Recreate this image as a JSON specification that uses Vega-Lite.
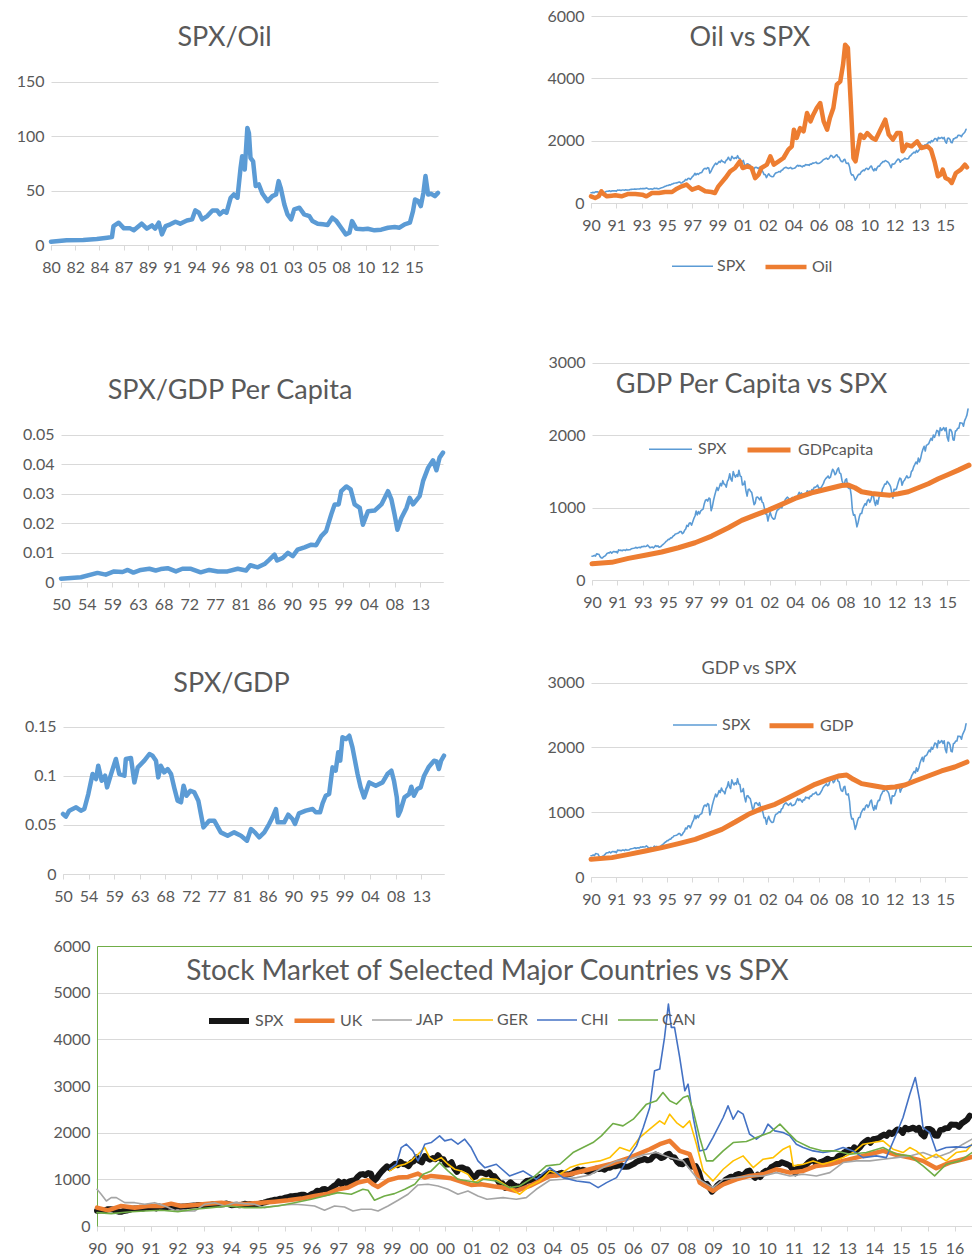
{
"$schema":"https://vega.github.io/schema/vega-lite/v6.json",
"background":"white",
"padding":{"left":0,"top":5,"right":0,"bottom":0},
"autosize":{"type":"pad"},
"config":{
 "font":"Lato",
 "view":{"stroke":"transparent"},
 "axis":{"labelFont":"Lato","labelFontSize":16,"labelColor":"#595959","labelOverlap":false},
 "axisX":{"grid":false,"domainColor":"#d9d9d9","tickColor":"#d9d9d9","tickSize":5,"labelPadding":9,"labelFlush":false,"labelAngle":0},
 "axisY":{"domain":false,"ticks":false,"grid":true,"gridColor":"#d9d9d9","labelPadding":7,"labelExpr":"'' + datum.value"},
 "title":{"font":"Lato","fontSize":27,"fontWeight":"normal","color":"#595959","frame":"group","anchor":"middle","baseline":"middle"},
 "legend":{"labelFont":"Lato","labelFontSize":16,"labelColor":"#595959","padding":0},
 "line":{"strokeJoin":"round","strokeCap":"round"}
},
"resolve":{"scale":{"color":"independent","strokeWidth":"independent"},"legend":{"color":"independent","strokeWidth":"independent"}},
"datasets":{
"spx":[
{"t":1990,"v":329},{"t":1990.08,"v":332},{"t":1990.17,"v":340},{"t":1990.25,"v":331},{"t":1990.33,"v":361},{"t":1990.42,"v":358},{"t":1990.5,"v":356},{"t":1990.58,"v":323},{"t":1990.67,"v":306},{"t":1990.75,"v":304},{"t":1990.83,"v":322},{"t":1990.92,"v":330},
{"t":1991,"v":344},{"t":1991.08,"v":367},{"t":1991.17,"v":375},{"t":1991.25,"v":375},{"t":1991.33,"v":390},{"t":1991.42,"v":371},{"t":1991.5,"v":388},{"t":1991.58,"v":395},{"t":1991.67,"v":388},{"t":1991.75,"v":392},{"t":1991.83,"v":375},{"t":1991.92,"v":417},
{"t":1992,"v":409},{"t":1992.08,"v":413},{"t":1992.17,"v":404},{"t":1992.25,"v":415},{"t":1992.33,"v":415},{"t":1992.42,"v":408},{"t":1992.5,"v":424},{"t":1992.58,"v":414},{"t":1992.67,"v":418},{"t":1992.75,"v":419},{"t":1992.83,"v":431},{"t":1992.92,"v":436},
{"t":1993,"v":439},{"t":1993.08,"v":443},{"t":1993.17,"v":452},{"t":1993.25,"v":440},{"t":1993.33,"v":450},{"t":1993.42,"v":451},{"t":1993.5,"v":448},{"t":1993.58,"v":464},{"t":1993.67,"v":459},{"t":1993.75,"v":468},{"t":1993.83,"v":462},{"t":1993.92,"v":466},
{"t":1994,"v":482},{"t":1994.08,"v":467},{"t":1994.17,"v":446},{"t":1994.25,"v":451},{"t":1994.33,"v":457},{"t":1994.42,"v":444},{"t":1994.5,"v":458},{"t":1994.58,"v":476},{"t":1994.67,"v":463},{"t":1994.75,"v":472},{"t":1994.83,"v":454},{"t":1994.92,"v":459},
{"t":1995,"v":470},{"t":1995.08,"v":487},{"t":1995.17,"v":501},{"t":1995.25,"v":515},{"t":1995.33,"v":533},{"t":1995.42,"v":545},{"t":1995.5,"v":562},{"t":1995.58,"v":562},{"t":1995.67,"v":584},{"t":1995.75,"v":582},{"t":1995.83,"v":605},{"t":1995.92,"v":616},
{"t":1996,"v":636},{"t":1996.08,"v":640},{"t":1996.17,"v":646},{"t":1996.25,"v":654},{"t":1996.33,"v":669},{"t":1996.42,"v":671},{"t":1996.5,"v":640},{"t":1996.58,"v":652},{"t":1996.67,"v":687},{"t":1996.75,"v":705},{"t":1996.83,"v":757},{"t":1996.92,"v":741},
{"t":1997,"v":786},{"t":1997.08,"v":791},{"t":1997.17,"v":757},{"t":1997.25,"v":801},{"t":1997.33,"v":848},{"t":1997.42,"v":885},{"t":1997.5,"v":954},{"t":1997.58,"v":900},{"t":1997.67,"v":947},{"t":1997.75,"v":915},{"t":1997.83,"v":955},{"t":1997.92,"v":970},
{"t":1998,"v":980},{"t":1998.08,"v":1049},{"t":1998.17,"v":1102},{"t":1998.25,"v":1112},{"t":1998.33,"v":1091},{"t":1998.42,"v":1134},{"t":1998.5,"v":1121},{"t":1998.58,"v":957},{"t":1998.67,"v":1017},{"t":1998.75,"v":1099},{"t":1998.83,"v":1164},{"t":1998.92,"v":1229},
{"t":1999,"v":1280},{"t":1999.08,"v":1238},{"t":1999.17,"v":1286},{"t":1999.25,"v":1335},{"t":1999.33,"v":1302},{"t":1999.42,"v":1373},{"t":1999.5,"v":1329},{"t":1999.58,"v":1320},{"t":1999.67,"v":1283},{"t":1999.75,"v":1363},{"t":1999.83,"v":1389},{"t":1999.92,"v":1469},
{"t":2000,"v":1395},{"t":2000.08,"v":1366},{"t":2000.17,"v":1499},{"t":2000.25,"v":1452},{"t":2000.33,"v":1421},{"t":2000.42,"v":1455},{"t":2000.5,"v":1431},{"t":2000.58,"v":1518},{"t":2000.67,"v":1437},{"t":2000.75,"v":1429},{"t":2000.83,"v":1315},{"t":2000.92,"v":1320},
{"t":2001,"v":1366},{"t":2001.08,"v":1240},{"t":2001.17,"v":1160},{"t":2001.25,"v":1250},{"t":2001.33,"v":1256},{"t":2001.42,"v":1224},{"t":2001.5,"v":1211},{"t":2001.58,"v":1134},{"t":2001.67,"v":1041},{"t":2001.75,"v":1060},{"t":2001.83,"v":1140},{"t":2001.92,"v":1148},
{"t":2002,"v":1130},{"t":2002.08,"v":1107},{"t":2002.17,"v":1147},{"t":2002.25,"v":1077},{"t":2002.33,"v":1067},{"t":2002.42,"v":990},{"t":2002.5,"v":912},{"t":2002.58,"v":916},{"t":2002.67,"v":815},{"t":2002.75,"v":886},{"t":2002.83,"v":936},{"t":2002.92,"v":880},
{"t":2003,"v":856},{"t":2003.08,"v":841},{"t":2003.17,"v":848},{"t":2003.25,"v":917},{"t":2003.33,"v":964},{"t":2003.42,"v":975},{"t":2003.5,"v":990},{"t":2003.58,"v":1008},{"t":2003.67,"v":996},{"t":2003.75,"v":1051},{"t":2003.83,"v":1058},{"t":2003.92,"v":1112},
{"t":2004,"v":1131},{"t":2004.08,"v":1145},{"t":2004.17,"v":1126},{"t":2004.25,"v":1107},{"t":2004.33,"v":1121},{"t":2004.42,"v":1141},{"t":2004.5,"v":1102},{"t":2004.58,"v":1104},{"t":2004.67,"v":1115},{"t":2004.75,"v":1130},{"t":2004.83,"v":1174},{"t":2004.92,"v":1212},
{"t":2005,"v":1181},{"t":2005.08,"v":1204},{"t":2005.17,"v":1181},{"t":2005.25,"v":1157},{"t":2005.33,"v":1192},{"t":2005.42,"v":1191},{"t":2005.5,"v":1234},{"t":2005.58,"v":1220},{"t":2005.67,"v":1229},{"t":2005.75,"v":1207},{"t":2005.83,"v":1250},{"t":2005.92,"v":1248},
{"t":2006,"v":1280},{"t":2006.08,"v":1281},{"t":2006.17,"v":1295},{"t":2006.25,"v":1311},{"t":2006.33,"v":1270},{"t":2006.42,"v":1270},{"t":2006.5,"v":1277},{"t":2006.58,"v":1304},{"t":2006.67,"v":1336},{"t":2006.75,"v":1378},{"t":2006.83,"v":1401},{"t":2006.92,"v":1418},
{"t":2007,"v":1438},{"t":2007.08,"v":1407},{"t":2007.17,"v":1421},{"t":2007.25,"v":1482},{"t":2007.33,"v":1531},{"t":2007.42,"v":1503},{"t":2007.5,"v":1455},{"t":2007.58,"v":1474},{"t":2007.67,"v":1527},{"t":2007.75,"v":1549},{"t":2007.83,"v":1481},{"t":2007.92,"v":1468},
{"t":2008,"v":1379},{"t":2008.08,"v":1331},{"t":2008.17,"v":1323},{"t":2008.25,"v":1386},{"t":2008.33,"v":1400},{"t":2008.42,"v":1280},{"t":2008.5,"v":1267},{"t":2008.58,"v":1283},{"t":2008.67,"v":1166},{"t":2008.75,"v":969},{"t":2008.83,"v":896},{"t":2008.92,"v":903},
{"t":2009,"v":826},{"t":2009.08,"v":735},{"t":2009.17,"v":798},{"t":2009.25,"v":873},{"t":2009.33,"v":919},{"t":2009.42,"v":919},{"t":2009.5,"v":988},{"t":2009.58,"v":1021},{"t":2009.67,"v":1057},{"t":2009.75,"v":1036},{"t":2009.83,"v":1096},{"t":2009.92,"v":1115},
{"t":2010,"v":1074},{"t":2010.08,"v":1105},{"t":2010.17,"v":1169},{"t":2010.25,"v":1187},{"t":2010.33,"v":1089},{"t":2010.42,"v":1031},{"t":2010.5,"v":1102},{"t":2010.58,"v":1049},{"t":2010.67,"v":1141},{"t":2010.75,"v":1183},{"t":2010.83,"v":1181},{"t":2010.92,"v":1258},
{"t":2011,"v":1286},{"t":2011.08,"v":1327},{"t":2011.17,"v":1326},{"t":2011.25,"v":1364},{"t":2011.33,"v":1345},{"t":2011.42,"v":1321},{"t":2011.5,"v":1292},{"t":2011.58,"v":1219},{"t":2011.67,"v":1131},{"t":2011.75,"v":1253},{"t":2011.83,"v":1247},{"t":2011.92,"v":1258},
{"t":2012,"v":1312},{"t":2012.08,"v":1366},{"t":2012.17,"v":1409},{"t":2012.25,"v":1398},{"t":2012.33,"v":1310},{"t":2012.42,"v":1362},{"t":2012.5,"v":1379},{"t":2012.58,"v":1407},{"t":2012.67,"v":1441},{"t":2012.75,"v":1412},{"t":2012.83,"v":1416},{"t":2012.92,"v":1426},
{"t":2013,"v":1498},{"t":2013.08,"v":1515},{"t":2013.17,"v":1569},{"t":2013.25,"v":1598},{"t":2013.33,"v":1631},{"t":2013.42,"v":1606},{"t":2013.5,"v":1686},{"t":2013.58,"v":1633},{"t":2013.67,"v":1682},{"t":2013.75,"v":1757},{"t":2013.83,"v":1806},{"t":2013.92,"v":1848},
{"t":2014,"v":1783},{"t":2014.08,"v":1860},{"t":2014.17,"v":1872},{"t":2014.25,"v":1884},{"t":2014.33,"v":1924},{"t":2014.42,"v":1960},{"t":2014.5,"v":1931},{"t":2014.58,"v":2003},{"t":2014.67,"v":1972},{"t":2014.75,"v":2018},{"t":2014.83,"v":2068},{"t":2014.92,"v":2059},
{"t":2015,"v":1995},{"t":2015.08,"v":2105},{"t":2015.17,"v":2068},{"t":2015.25,"v":2086},{"t":2015.33,"v":2107},{"t":2015.42,"v":2063},{"t":2015.5,"v":2104},{"t":2015.58,"v":1972},{"t":2015.67,"v":1920},{"t":2015.75,"v":2079},{"t":2015.83,"v":2080},{"t":2015.92,"v":2044},
{"t":2016,"v":1940},{"t":2016.08,"v":1932},{"t":2016.17,"v":2060},{"t":2016.25,"v":2065},{"t":2016.33,"v":2097},{"t":2016.42,"v":2099},{"t":2016.5,"v":2174},{"t":2016.58,"v":2171},{"t":2016.67,"v":2168},{"t":2016.75,"v":2126},{"t":2016.83,"v":2199},{"t":2016.92,"v":2239},
{"t":2017,"v":2279},{"t":2017.08,"v":2364}
],
"oil":[
{"t":1990,"v":214},{"t":1990.3,"v":160},{"t":1990.55,"v":214},{"t":1990.75,"v":375},{"t":1990.9,"v":290},{"t":1991.15,"v":214},{"t":1991.5,"v":235},{"t":1991.75,"v":246},{"t":1992.2,"v":214},{"t":1992.7,"v":290},{"t":1993.2,"v":290},{"t":1993.7,"v":267},{"t":1994,"v":214},{"t":1994.4,"v":320},{"t":1994.9,"v":320},{"t":1995.35,"v":353},{"t":1995.85,"v":353},{"t":1996.2,"v":460},{"t":1996.55,"v":535},{"t":1996.9,"v":590},{"t":1997.3,"v":428},{"t":1997.75,"v":503},{"t":1998.25,"v":375},{"t":1998.7,"v":353},{"t":1998.95,"v":320},{"t":1999.2,"v":535},{"t":1999.7,"v":800},{"t":2000.05,"v":1016},{"t":2000.4,"v":1123},{"t":2000.75,"v":1337},{"t":2000.95,"v":1123},{"t":2001.3,"v":1176},{"t":2001.6,"v":1123},{"t":2001.85,"v":800},{"t":2002.1,"v":909},{"t":2002.3,"v":1123},{"t":2002.7,"v":1230},{"t":2002.95,"v":1497},{"t":2003.2,"v":1230},{"t":2003.55,"v":1337},{"t":2003.9,"v":1444},{"t":2004.25,"v":1711},{"t":2004.5,"v":1818},{"t":2004.65,"v":2353},{"t":2004.85,"v":2086},{"t":2005.1,"v":2406},{"t":2005.35,"v":2300},{"t":2005.6,"v":2888},{"t":2005.85,"v":2620},{"t":2006.05,"v":2834},{"t":2006.3,"v":3048},{"t":2006.55,"v":3208},{"t":2006.8,"v":2620},{"t":2007.05,"v":2353},{"t":2007.25,"v":2727},{"t":2007.5,"v":3048},{"t":2007.75,"v":3797},{"t":2008,"v":3904},{"t":2008.2,"v":4439},{"t":2008.35,"v":5080},{"t":2008.55,"v":4973},{"t":2008.75,"v":3262},{"t":2008.95,"v":1444},{"t":2009.1,"v":1337},{"t":2009.45,"v":2193},{"t":2009.7,"v":2086},{"t":2009.95,"v":2246},{"t":2010.3,"v":2086},{"t":2010.55,"v":2032},{"t":2010.9,"v":2353},{"t":2011.25,"v":2674},{"t":2011.5,"v":2193},{"t":2011.8,"v":2032},{"t":2012.1,"v":2246},{"t":2012.35,"v":2246},{"t":2012.5,"v":1658},{"t":2012.8,"v":1872},{"t":2013.15,"v":1818},{"t":2013.55,"v":1979},{"t":2013.85,"v":1765},{"t":2014.3,"v":1818},{"t":2014.55,"v":1711},{"t":2014.8,"v":1337},{"t":2015.05,"v":856},{"t":2015.25,"v":909},{"t":2015.4,"v":1070},{"t":2015.6,"v":802},{"t":2015.85,"v":749},{"t":2016.05,"v":642},{"t":2016.35,"v":963},{"t":2016.7,"v":1070},{"t":2017,"v":1230},{"t":2017.15,"v":1144}
],
"spxoil":[
{"t":1980,"v":3},{"t":1981.5,"v":4.3},{"t":1983.1,"v":4.6},{"t":1984.4,"v":5.5},{"t":1985.4,"v":6.7},{"t":1985.85,"v":7.3},{"t":1986,"v":17.4},{"t":1986.5,"v":20.5},{"t":1987,"v":15.3},{"t":1987.6,"v":15.3},{"t":1987.95,"v":13.5},{"t":1988.7,"v":19.6},{"t":1989.2,"v":15},{"t":1989.7,"v":18},{"t":1990,"v":15},{"t":1990.35,"v":20.5},{"t":1990.65,"v":9.8},{"t":1991,"v":17.4},{"t":1991.45,"v":19},{"t":1991.95,"v":21.4},{"t":1992.4,"v":19.6},{"t":1993.05,"v":22.6},{"t":1993.55,"v":23.6},{"t":1993.85,"v":31.8},{"t":1994.2,"v":29.7},{"t":1994.5,"v":23.6},{"t":1995,"v":26.6},{"t":1995.5,"v":31.8},{"t":1995.95,"v":31.8},{"t":1996.2,"v":28.2},{"t":1996.55,"v":31.2},{"t":1996.85,"v":29.7},{"t":1997.25,"v":43.5},{"t":1997.55,"v":46.5},{"t":1997.9,"v":43.5},{"t":1998.2,"v":71},{"t":1998.35,"v":81.7},{"t":1998.6,"v":69.5},{"t":1998.85,"v":107.7},{"t":1999,"v":103},{"t":1999.15,"v":80.2},{"t":1999.4,"v":77},{"t":1999.65,"v":54.2},{"t":1999.95,"v":55.7},{"t":2000.3,"v":47.1},{"t":2000.8,"v":40.4},{"t":2001.25,"v":45},{"t":2001.6,"v":46.5},{"t":2001.85,"v":58.8},{"t":2002.05,"v":52.6},{"t":2002.4,"v":37.3},{"t":2002.7,"v":28.2},{"t":2003.05,"v":23.6},{"t":2003.35,"v":32.8},{"t":2003.85,"v":34.3},{"t":2004.3,"v":28.2},{"t":2004.8,"v":26.6},{"t":2005.1,"v":22},{"t":2005.6,"v":19.6},{"t":2006.1,"v":19},{"t":2006.55,"v":18.4},{"t":2007,"v":25.1},{"t":2007.4,"v":22},{"t":2007.85,"v":15.9},{"t":2008.3,"v":9.8},{"t":2008.65,"v":11.3},{"t":2008.9,"v":22},{"t":2009.3,"v":15},{"t":2009.95,"v":14.4},{"t":2010.4,"v":15},{"t":2011.05,"v":13.5},{"t":2011.7,"v":14.1},{"t":2012.35,"v":15.9},{"t":2013,"v":16.5},{"t":2013.45,"v":15.9},{"t":2013.95,"v":19},{"t":2014.45,"v":20.5},{"t":2014.75,"v":31.2},{"t":2014.95,"v":41.9},{"t":2015.25,"v":40.4},{"t":2015.5,"v":35.8},{"t":2015.75,"v":48},{"t":2015.95,"v":63.4},{"t":2016.2,"v":46.5},{"t":2016.5,"v":47.1},{"t":2016.85,"v":45},{"t":2017.15,"v":48}
],
"spxgdppc":[
{"t":1950,"v":0.00114},{"t":1953.5,"v":0.0016},{"t":1956.4,"v":0.0031},{"t":1957.85,"v":0.0025},{"t":1959.3,"v":0.0036},{"t":1960.8,"v":0.0034},{"t":1961.7,"v":0.0041},{"t":1962.7,"v":0.0032},{"t":1964,"v":0.0041},{"t":1965.5,"v":0.0045},{"t":1966.6,"v":0.0039},{"t":1967.5,"v":0.0044},{"t":1968.7,"v":0.0047},{"t":1970.15,"v":0.0036},{"t":1971.3,"v":0.0045},{"t":1972.8,"v":0.0045},{"t":1974.5,"v":0.0033},{"t":1976,"v":0.0041},{"t":1977.5,"v":0.0036},{"t":1979.2,"v":0.0036},{"t":1981,"v":0.0045},{"t":1982.45,"v":0.0039},{"t":1983.2,"v":0.0057},{"t":1984.5,"v":0.005},{"t":1985.7,"v":0.0061},{"t":1986.55,"v":0.0076},{"t":1987.45,"v":0.0093},{"t":1987.9,"v":0.0073},{"t":1988.9,"v":0.0082},{"t":1989.8,"v":0.0099},{"t":1990.65,"v":0.0088},{"t":1991.5,"v":0.011},{"t":1992.7,"v":0.0118},{"t":1993.9,"v":0.0127},{"t":1994.75,"v":0.0125},{"t":1995.65,"v":0.0156},{"t":1996.5,"v":0.0173},{"t":1997.4,"v":0.023},{"t":1998,"v":0.0264},{"t":1998.7,"v":0.0264},{"t":1999.15,"v":0.0309},{"t":2000.05,"v":0.0325},{"t":2000.8,"v":0.0315},{"t":2001.5,"v":0.0264},{"t":2002.4,"v":0.0252},{"t":2002.95,"v":0.0195},{"t":2003.85,"v":0.0241},{"t":2005,"v":0.0243},{"t":2006.2,"v":0.0264},{"t":2007.35,"v":0.0309},{"t":2007.95,"v":0.0281},{"t":2008.5,"v":0.023},{"t":2009,"v":0.0178},{"t":2009.7,"v":0.0218},{"t":2010.6,"v":0.0252},{"t":2011.15,"v":0.0286},{"t":2011.75,"v":0.0264},{"t":2012.9,"v":0.0292},{"t":2013.5,"v":0.0343},{"t":2014.4,"v":0.0389},{"t":2015.25,"v":0.0414},{"t":2015.85,"v":0.038},{"t":2016.4,"v":0.0423},{"t":2017,"v":0.044}
],
"spxgdp":[
{"t":1950,"v":0.0611},{"t":1950.5,"v":0.0584},{"t":1951.1,"v":0.0645},{"t":1952.3,"v":0.0679},{"t":1953.15,"v":0.0645},{"t":1953.75,"v":0.0662},{"t":1954.45,"v":0.0814},{"t":1955.2,"v":0.1018},{"t":1955.8,"v":0.0967},{"t":1956.2,"v":0.1103},{"t":1956.8,"v":0.095},{"t":1957.4,"v":0.1001},{"t":1957.75,"v":0.0882},{"t":1958.45,"v":0.1018},{"t":1959.3,"v":0.1171},{"t":1959.9,"v":0.1018},{"t":1960.8,"v":0.1001},{"t":1961.05,"v":0.1171},{"t":1961.95,"v":0.1181},{"t":1962.55,"v":0.0933},{"t":1963.15,"v":0.1086},{"t":1964.3,"v":0.1154},{"t":1965.2,"v":0.1222},{"t":1965.75,"v":0.1205},{"t":1966.35,"v":0.1154},{"t":1966.75,"v":0.0984},{"t":1967.2,"v":0.1103},{"t":1967.8,"v":0.1035},{"t":1968.4,"v":0.1069},{"t":1969,"v":0.1018},{"t":1969.55,"v":0.0882},{"t":1970.15,"v":0.0747},{"t":1970.75,"v":0.073},{"t":1971.2,"v":0.0899},{"t":1971.7,"v":0.0797},{"t":1972.4,"v":0.0848},{"t":1973.1,"v":0.0831},{"t":1973.8,"v":0.0747},{"t":1974.25,"v":0.0611},{"t":1974.7,"v":0.0475},{"t":1975.7,"v":0.0543},{"t":1976.6,"v":0.0543},{"t":1977.75,"v":0.0424},{"t":1978.95,"v":0.039},{"t":1980.1,"v":0.0424},{"t":1981.3,"v":0.039},{"t":1982.35,"v":0.0339},{"t":1983.05,"v":0.0458},{"t":1983.75,"v":0.0424},{"t":1984.5,"v":0.0373},{"t":1985.4,"v":0.0424},{"t":1986.25,"v":0.0509},{"t":1986.85,"v":0.0577},{"t":1987.45,"v":0.0662},{"t":1987.75,"v":0.0526},{"t":1988.9,"v":0.0526},{"t":1989.6,"v":0.0604},{"t":1990.35,"v":0.056},{"t":1990.8,"v":0.0509},{"t":1991.5,"v":0.0618},{"t":1992.7,"v":0.0645},{"t":1993.9,"v":0.0662},{"t":1994.45,"v":0.0628},{"t":1995.2,"v":0.0628},{"t":1995.65,"v":0.0719},{"t":1996.2,"v":0.0797},{"t":1996.8,"v":0.0814},{"t":1997.4,"v":0.1086},{"t":1997.95,"v":0.1052},{"t":1998.4,"v":0.1239},{"t":1998.75,"v":0.1154},{"t":1999.15,"v":0.1392},{"t":1999.75,"v":0.1374},{"t":2000.35,"v":0.1408},{"t":2000.9,"v":0.129},{"t":2001.35,"v":0.1154},{"t":2001.8,"v":0.1018},{"t":2002.35,"v":0.0882},{"t":2002.95,"v":0.078},{"t":2003.85,"v":0.0933},{"t":2005,"v":0.0899},{"t":2006.2,"v":0.0933},{"t":2007.05,"v":0.1018},{"t":2007.75,"v":0.1052},{"t":2008.2,"v":0.095},{"t":2008.7,"v":0.078},{"t":2008.95,"v":0.0594},{"t":2009.35,"v":0.0645},{"t":2010.05,"v":0.078},{"t":2010.85,"v":0.0814},{"t":2011.25,"v":0.0889},{"t":2011.7,"v":0.0797},{"t":2012.3,"v":0.0865},{"t":2012.9,"v":0.0882},{"t":2013.5,"v":0.1001},{"t":2014.35,"v":0.1093},{"t":2015.25,"v":0.1154},{"t":2015.7,"v":0.1147},{"t":2016.1,"v":0.1069},{"t":2016.5,"v":0.1154},{"t":2017,"v":0.1205}
],
"gdppc":[
{"t":1990,"v":225},{"t":1991.42,"v":244},{"t":1992.62,"v":299},{"t":1993.82,"v":341},{"t":1995.02,"v":387},{"t":1996.22,"v":446},{"t":1997.42,"v":515},{"t":1998.62,"v":607},{"t":1999.82,"v":722},{"t":2000.78,"v":824},{"t":2001.74,"v":897},{"t":2002.7,"v":966},{"t":2003.66,"v":1045},{"t":2004.62,"v":1127},{"t":2005.82,"v":1206},{"t":2007.02,"v":1261},{"t":2007.98,"v":1307},{"t":2008.46,"v":1312},{"t":2008.94,"v":1275},{"t":2009.42,"v":1220},{"t":2010.14,"v":1197},{"t":2010.86,"v":1183},{"t":2011.46,"v":1173},{"t":2012.06,"v":1192},{"t":2012.78,"v":1220},{"t":2013.5,"v":1275},{"t":2014.22,"v":1330},{"t":2014.94,"v":1399},{"t":2015.66,"v":1459},{"t":2016.38,"v":1519},{"t":2017.15,"v":1588}
],
"gdp":[
{"t":1990,"v":273},{"t":1991.51,"v":299},{"t":1992.72,"v":350},{"t":1993.92,"v":401},{"t":1995.12,"v":453},{"t":1996.32,"v":515},{"t":1997.52,"v":582},{"t":1998.49,"v":659},{"t":1999.45,"v":736},{"t":2000.41,"v":849},{"t":2001.37,"v":968},{"t":2002.33,"v":1055},{"t":2003.29,"v":1122},{"t":2004.25,"v":1225},{"t":2005.22,"v":1328},{"t":2006.18,"v":1431},{"t":2007.14,"v":1508},{"t":2007.86,"v":1559},{"t":2008.46,"v":1575},{"t":2008.94,"v":1508},{"t":2009.54,"v":1441},{"t":2010.5,"v":1405},{"t":2011.23,"v":1379},{"t":2011.95,"v":1390},{"t":2012.67,"v":1420},{"t":2013.39,"v":1482},{"t":2014.35,"v":1559},{"t":2015.31,"v":1637},{"t":2016.27,"v":1698},{"t":2017.15,"v":1776}
],
"world":[
{"s":"UK","t":1990,"v":393},{"s":"UK","t":1990.34,"v":336},{"s":"UK","t":1990.75,"v":429},{"s":"UK","t":1991.17,"v":393},{"s":"UK","t":1991.58,"v":429},{"s":"UK","t":1992,"v":429},{"s":"UK","t":1992.3,"v":479},{"s":"UK","t":1992.6,"v":429},{"s":"UK","t":1993.03,"v":451},{"s":"UK","t":1993.44,"v":479},{"s":"UK","t":1993.86,"v":500},{"s":"UK","t":1994.27,"v":465},{"s":"UK","t":1994.68,"v":479},{"s":"UK","t":1995.1,"v":500},{"s":"UK","t":1995.51,"v":522},{"s":"UK","t":1995.93,"v":551},{"s":"UK","t":1996.34,"v":587},{"s":"UK","t":1996.75,"v":644},{"s":"UK","t":1997.17,"v":694},{"s":"UK","t":1997.48,"v":787},{"s":"UK","t":1997.79,"v":823},{"s":"UK","t":1998.1,"v":930},{"s":"UK","t":1998.41,"v":980},{"s":"UK","t":1998.56,"v":894},{"s":"UK","t":1998.72,"v":837},{"s":"UK","t":1999.03,"v":980},{"s":"UK","t":1999.34,"v":1037},{"s":"UK","t":1999.65,"v":1052},{"s":"UK","t":1999.96,"v":1123},{"s":"UK","t":2000.17,"v":1037},{"s":"UK","t":2000.37,"v":1073},{"s":"UK","t":2000.68,"v":1052},{"s":"UK","t":2000.99,"v":1023},{"s":"UK","t":2001.3,"v":951},{"s":"UK","t":2001.61,"v":880},{"s":"UK","t":2001.92,"v":894},{"s":"UK","t":2002.3,"v":850},{"s":"UK","t":2002.6,"v":823},{"s":"UK","t":2003.01,"v":751},{"s":"UK","t":2003.43,"v":858},{"s":"UK","t":2004.05,"v":1073},{"s":"UK","t":2004.67,"v":1109},{"s":"UK","t":2005.29,"v":1216},{"s":"UK","t":2005.91,"v":1323},{"s":"UK","t":2006.53,"v":1466},{"s":"UK","t":2007.15,"v":1645},{"s":"UK","t":2007.46,"v":1753},{"s":"UK","t":2007.77,"v":1824},{"s":"UK","t":2008.08,"v":1609},{"s":"UK","t":2008.39,"v":1538},{"s":"UK","t":2008.7,"v":930},{"s":"UK","t":2009.11,"v":751},{"s":"UK","t":2009.43,"v":894},{"s":"UK","t":2009.84,"v":1001},{"s":"UK","t":2010.25,"v":1073},{"s":"UK","t":2010.67,"v":1109},{"s":"UK","t":2011.08,"v":1216},{"s":"UK","t":2011.5,"v":1144},{"s":"UK","t":2011.91,"v":1180},{"s":"UK","t":2012.32,"v":1288},{"s":"UK","t":2012.74,"v":1323},{"s":"UK","t":2013.15,"v":1395},{"s":"UK","t":2013.56,"v":1466},{"s":"UK","t":2013.98,"v":1538},{"s":"UK","t":2014.39,"v":1609},{"s":"UK","t":2014.8,"v":1524},{"s":"UK","t":2015.22,"v":1466},{"s":"UK","t":2015.63,"v":1395},{"s":"UK","t":2016.04,"v":1237},{"s":"UK","t":2016.46,"v":1359},{"s":"UK","t":2016.87,"v":1431},{"s":"UK","t":2017.15,"v":1481},
{"s":"JAP","t":1990,"v":787},{"s":"JAP","t":1990.13,"v":680},{"s":"JAP","t":1990.29,"v":536},{"s":"JAP","t":1990.44,"v":608},{"s":"JAP","t":1990.6,"v":608},{"s":"JAP","t":1990.86,"v":500},{"s":"JAP","t":1991.17,"v":500},{"s":"JAP","t":1991.48,"v":465},{"s":"JAP","t":1991.79,"v":500},{"s":"JAP","t":1992.1,"v":429},{"s":"JAP","t":1992.41,"v":336},{"s":"JAP","t":1992.72,"v":322},{"s":"JAP","t":1993.03,"v":322},{"s":"JAP","t":1993.34,"v":465},{"s":"JAP","t":1993.65,"v":500},{"s":"JAP","t":1993.96,"v":429},{"s":"JAP","t":1994.27,"v":500},{"s":"JAP","t":1994.58,"v":479},{"s":"JAP","t":1994.89,"v":465},{"s":"JAP","t":1995.2,"v":393},{"s":"JAP","t":1995.51,"v":429},{"s":"JAP","t":1995.82,"v":451},{"s":"JAP","t":1996.13,"v":465},{"s":"JAP","t":1996.44,"v":451},{"s":"JAP","t":1996.75,"v":429},{"s":"JAP","t":1997.06,"v":336},{"s":"JAP","t":1997.37,"v":429},{"s":"JAP","t":1997.68,"v":408},{"s":"JAP","t":1997.94,"v":322},{"s":"JAP","t":1998.2,"v":358},{"s":"JAP","t":1998.51,"v":358},{"s":"JAP","t":1998.72,"v":322},{"s":"JAP","t":1999.03,"v":429},{"s":"JAP","t":1999.34,"v":551},{"s":"JAP","t":1999.65,"v":680},{"s":"JAP","t":1999.96,"v":880},{"s":"JAP","t":2000.27,"v":894},{"s":"JAP","t":2000.58,"v":858},{"s":"JAP","t":2000.89,"v":787},{"s":"JAP","t":2001.2,"v":680},{"s":"JAP","t":2001.51,"v":751},{"s":"JAP","t":2001.82,"v":644},{"s":"JAP","t":2002.1,"v":572},{"s":"JAP","t":2002.6,"v":608},{"s":"JAP","t":2003.01,"v":572},{"s":"JAP","t":2003.32,"v":608},{"s":"JAP","t":2003.63,"v":787},{"s":"JAP","t":2004.05,"v":980},{"s":"JAP","t":2004.46,"v":1001},{"s":"JAP","t":2004.88,"v":1037},{"s":"JAP","t":2005.29,"v":1094},{"s":"JAP","t":2005.7,"v":1252},{"s":"JAP","t":2006.12,"v":1395},{"s":"JAP","t":2006.53,"v":1431},{"s":"JAP","t":2006.95,"v":1524},{"s":"JAP","t":2007.36,"v":1574},{"s":"JAP","t":2007.77,"v":1466},{"s":"JAP","t":2008.19,"v":1395},{"s":"JAP","t":2008.6,"v":1037},{"s":"JAP","t":2009.11,"v":823},{"s":"JAP","t":2009.43,"v":1001},{"s":"JAP","t":2009.84,"v":1037},{"s":"JAP","t":2010.25,"v":1073},{"s":"JAP","t":2010.67,"v":1073},{"s":"JAP","t":2011.08,"v":1144},{"s":"JAP","t":2011.5,"v":1073},{"s":"JAP","t":2011.91,"v":1109},{"s":"JAP","t":2012.32,"v":1073},{"s":"JAP","t":2012.74,"v":1144},{"s":"JAP","t":2013.15,"v":1359},{"s":"JAP","t":2013.56,"v":1395},{"s":"JAP","t":2013.98,"v":1395},{"s":"JAP","t":2014.39,"v":1431},{"s":"JAP","t":2014.8,"v":1466},{"s":"JAP","t":2015.22,"v":1502},{"s":"JAP","t":2015.63,"v":1574},{"s":"JAP","t":2016.04,"v":1466},{"s":"JAP","t":2016.46,"v":1574},{"s":"JAP","t":2016.87,"v":1753},{"s":"JAP","t":2017.15,"v":1860},
{"s":"GER","t":1999.08,"v":1180},{"s":"GER","t":1999.34,"v":1288},{"s":"GER","t":1999.55,"v":1323},{"s":"GER","t":1999.75,"v":1395},{"s":"GER","t":1999.96,"v":1538},{"s":"GER","t":2000.17,"v":1681},{"s":"GER","t":2000.32,"v":1466},{"s":"GER","t":2000.48,"v":1395},{"s":"GER","t":2000.68,"v":1466},{"s":"GER","t":2000.89,"v":1323},{"s":"GER","t":2001.1,"v":1216},{"s":"GER","t":2001.3,"v":1180},{"s":"GER","t":2001.51,"v":1109},{"s":"GER","t":2001.72,"v":930},{"s":"GER","t":2001.95,"v":1020},{"s":"GER","t":2002.39,"v":1001},{"s":"GER","t":2002.8,"v":823},{"s":"GER","t":2003.11,"v":680},{"s":"GER","t":2003.43,"v":858},{"s":"GER","t":2003.74,"v":966},{"s":"GER","t":2004.05,"v":1180},{"s":"GER","t":2004.36,"v":1109},{"s":"GER","t":2004.67,"v":1252},{"s":"GER","t":2004.98,"v":1323},{"s":"GER","t":2005.29,"v":1359},{"s":"GER","t":2005.6,"v":1395},{"s":"GER","t":2005.91,"v":1466},{"s":"GER","t":2006.22,"v":1681},{"s":"GER","t":2006.53,"v":1609},{"s":"GER","t":2006.84,"v":1896},{"s":"GER","t":2007.15,"v":2074},{"s":"GER","t":2007.46,"v":2253},{"s":"GER","t":2007.61,"v":2182},{"s":"GER","t":2007.77,"v":2396},{"s":"GER","t":2007.98,"v":2217},{"s":"GER","t":2008.19,"v":2110},{"s":"GER","t":2008.39,"v":2253},{"s":"GER","t":2008.6,"v":1753},{"s":"GER","t":2008.81,"v":1180},{"s":"GER","t":2009.11,"v":966},{"s":"GER","t":2009.43,"v":1216},{"s":"GER","t":2009.74,"v":1395},{"s":"GER","t":2010.05,"v":1502},{"s":"GER","t":2010.36,"v":1252},{"s":"GER","t":2010.67,"v":1431},{"s":"GER","t":2010.98,"v":1466},{"s":"GER","t":2011.29,"v":1645},{"s":"GER","t":2011.5,"v":1717},{"s":"GER","t":2011.6,"v":1288},{"s":"GER","t":2011.91,"v":1323},{"s":"GER","t":2012.22,"v":1395},{"s":"GER","t":2012.53,"v":1323},{"s":"GER","t":2012.84,"v":1395},{"s":"GER","t":2013.15,"v":1466},{"s":"GER","t":2013.46,"v":1574},{"s":"GER","t":2013.77,"v":1753},{"s":"GER","t":2014.08,"v":1788},{"s":"GER","t":2014.39,"v":1824},{"s":"GER","t":2014.7,"v":1645},{"s":"GER","t":2015.01,"v":1574},{"s":"GER","t":2015.22,"v":1681},{"s":"GER","t":2015.42,"v":1609},{"s":"GER","t":2015.73,"v":1431},{"s":"GER","t":2016.04,"v":1538},{"s":"GER","t":2016.35,"v":1395},{"s":"GER","t":2016.66,"v":1574},{"s":"GER","t":2016.97,"v":1609},{"s":"GER","t":2017.15,"v":1753},
{"s":"CHI","t":1999.08,"v":1216},{"s":"CHI","t":1999.29,"v":1323},{"s":"CHI","t":1999.44,"v":1681},{"s":"CHI","t":1999.6,"v":1753},{"s":"CHI","t":1999.8,"v":1609},{"s":"CHI","t":1999.96,"v":1395},{"s":"CHI","t":2000.17,"v":1753},{"s":"CHI","t":2000.37,"v":1788},{"s":"CHI","t":2000.63,"v":1931},{"s":"CHI","t":2000.79,"v":1824},{"s":"CHI","t":2000.99,"v":1860},{"s":"CHI","t":2001.2,"v":1753},{"s":"CHI","t":2001.41,"v":1860},{"s":"CHI","t":2001.61,"v":1681},{"s":"CHI","t":2001.82,"v":1395},{"s":"CHI","t":2002.03,"v":1250},{"s":"CHI","t":2002.39,"v":1323},{"s":"CHI","t":2002.8,"v":1073},{"s":"CHI","t":2003.22,"v":1180},{"s":"CHI","t":2003.63,"v":1001},{"s":"CHI","t":2004.05,"v":1252},{"s":"CHI","t":2004.46,"v":1037},{"s":"CHI","t":2004.88,"v":966},{"s":"CHI","t":2005.29,"v":930},{"s":"CHI","t":2005.55,"v":823},{"s":"CHI","t":2005.81,"v":930},{"s":"CHI","t":2006.12,"v":1037},{"s":"CHI","t":2006.43,"v":1395},{"s":"CHI","t":2006.74,"v":1717},{"s":"CHI","t":2006.95,"v":2110},{"s":"CHI","t":2007.15,"v":2539},{"s":"CHI","t":2007.3,"v":3326},{"s":"CHI","t":2007.46,"v":3362},{"s":"CHI","t":2007.61,"v":4041},{"s":"CHI","t":2007.73,"v":4757},{"s":"CHI","t":2007.82,"v":4256},{"s":"CHI","t":2007.92,"v":4256},{"s":"CHI","t":2008.08,"v":3612},{"s":"CHI","t":2008.24,"v":2897},{"s":"CHI","t":2008.34,"v":3040},{"s":"CHI","t":2008.5,"v":2325},{"s":"CHI","t":2008.7,"v":1609},{"s":"CHI","t":2008.91,"v":1645},{"s":"CHI","t":2009.11,"v":1896},{"s":"CHI","t":2009.43,"v":2325},{"s":"CHI","t":2009.58,"v":2575},{"s":"CHI","t":2009.74,"v":2289},{"s":"CHI","t":2009.89,"v":2468},{"s":"CHI","t":2010.05,"v":2396},{"s":"CHI","t":2010.25,"v":1967},{"s":"CHI","t":2010.46,"v":1860},{"s":"CHI","t":2010.67,"v":1967},{"s":"CHI","t":2010.82,"v":2182},{"s":"CHI","t":2011.03,"v":2039},{"s":"CHI","t":2011.29,"v":2003},{"s":"CHI","t":2011.5,"v":1931},{"s":"CHI","t":2011.7,"v":1753},{"s":"CHI","t":2011.91,"v":1681},{"s":"CHI","t":2012.22,"v":1609},{"s":"CHI","t":2012.53,"v":1574},{"s":"CHI","t":2012.84,"v":1609},{"s":"CHI","t":2013.15,"v":1681},{"s":"CHI","t":2013.46,"v":1609},{"s":"CHI","t":2013.77,"v":1466},{"s":"CHI","t":2014.18,"v":1502},{"s":"CHI","t":2014.49,"v":1466},{"s":"CHI","t":2014.8,"v":1967},{"s":"CHI","t":2015.01,"v":2325},{"s":"CHI","t":2015.22,"v":2825},{"s":"CHI","t":2015.39,"v":3183},{"s":"CHI","t":2015.53,"v":2682},{"s":"CHI","t":2015.63,"v":2110},{"s":"CHI","t":2015.84,"v":2003},{"s":"CHI","t":2016.04,"v":1609},{"s":"CHI","t":2016.35,"v":1681},{"s":"CHI","t":2016.66,"v":1695},{"s":"CHI","t":2016.97,"v":1681},{"s":"CHI","t":2017.15,"v":1738},
{"s":"CAN","t":1990,"v":286},{"s":"CAN","t":1990.44,"v":265},{"s":"CAN","t":1990.96,"v":300},{"s":"CAN","t":1991.48,"v":322},{"s":"CAN","t":1992,"v":336},{"s":"CAN","t":1992.51,"v":308},{"s":"CAN","t":1993.03,"v":358},{"s":"CAN","t":1993.55,"v":393},{"s":"CAN","t":1994.06,"v":429},{"s":"CAN","t":1994.58,"v":393},{"s":"CAN","t":1995.1,"v":393},{"s":"CAN","t":1995.61,"v":429},{"s":"CAN","t":1996.13,"v":500},{"s":"CAN","t":1996.65,"v":572},{"s":"CAN","t":1997.06,"v":644},{"s":"CAN","t":1997.48,"v":715},{"s":"CAN","t":1997.89,"v":680},{"s":"CAN","t":1998.25,"v":787},{"s":"CAN","t":1998.41,"v":765},{"s":"CAN","t":1998.61,"v":551},{"s":"CAN","t":1998.92,"v":644},{"s":"CAN","t":1999.23,"v":694},{"s":"CAN","t":1999.55,"v":787},{"s":"CAN","t":1999.86,"v":894},{"s":"CAN","t":2000.12,"v":1109},{"s":"CAN","t":2000.37,"v":1180},{"s":"CAN","t":2000.63,"v":1359},{"s":"CAN","t":2000.89,"v":1180},{"s":"CAN","t":2001.2,"v":1001},{"s":"CAN","t":2001.51,"v":966},{"s":"CAN","t":2001.82,"v":930},{"s":"CAN","t":2001.98,"v":1001},{"s":"CAN","t":2002.39,"v":966},{"s":"CAN","t":2002.8,"v":823},{"s":"CAN","t":2003.11,"v":858},{"s":"CAN","t":2003.53,"v":1037},{"s":"CAN","t":2003.94,"v":1288},{"s":"CAN","t":2004.36,"v":1323},{"s":"CAN","t":2004.77,"v":1574},{"s":"CAN","t":2005.08,"v":1681},{"s":"CAN","t":2005.39,"v":1788},{"s":"CAN","t":2005.65,"v":1931},{"s":"CAN","t":2006.01,"v":2196},{"s":"CAN","t":2006.32,"v":2146},{"s":"CAN","t":2006.64,"v":2289},{"s":"CAN","t":2007.05,"v":2611},{"s":"CAN","t":2007.36,"v":2682},{"s":"CAN","t":2007.56,"v":2861},{"s":"CAN","t":2007.77,"v":2682},{"s":"CAN","t":2007.98,"v":2611},{"s":"CAN","t":2008.19,"v":2754},{"s":"CAN","t":2008.34,"v":2790},{"s":"CAN","t":2008.5,"v":2468},{"s":"CAN","t":2008.7,"v":1896},{"s":"CAN","t":2008.91,"v":1395},{"s":"CAN","t":2009.11,"v":1395},{"s":"CAN","t":2009.43,"v":1609},{"s":"CAN","t":2009.74,"v":1788},{"s":"CAN","t":2010.15,"v":1810},{"s":"CAN","t":2010.46,"v":1896},{"s":"CAN","t":2010.88,"v":2003},{"s":"CAN","t":2011.19,"v":2182},{"s":"CAN","t":2011.39,"v":2039},{"s":"CAN","t":2011.7,"v":1824},{"s":"CAN","t":2012.12,"v":1681},{"s":"CAN","t":2012.53,"v":1609},{"s":"CAN","t":2012.94,"v":1609},{"s":"CAN","t":2013.36,"v":1538},{"s":"CAN","t":2013.87,"v":1574},{"s":"CAN","t":2014.39,"v":1681},{"s":"CAN","t":2014.8,"v":1538},{"s":"CAN","t":2015.22,"v":1502},{"s":"CAN","t":2015.63,"v":1288},{"s":"CAN","t":2015.99,"v":1073},{"s":"CAN","t":2016.35,"v":1323},{"s":"CAN","t":2016.77,"v":1395},{"s":"CAN","t":2017.15,"v":1574}
]
},
"spacing":18,
"columns":1,
"align":"none",
"concat":[
{"hconcat":[
 {"width":387,"height":239,
  "title":{"text":"SPX/Oil","offset":-46,"dx":-20},
  "data":{"name":"spxoil"},
  "mark":{"type":"line","color":"#5b9bd5","strokeWidth":4.5},
  "encoding":{
   "x":{"field":"t","type":"quantitative","title":null,"scale":{"domain":[1980,2017.15],"nice":false,"zero":false},
        "axis":{"values":[1980,1982.3225,1984.645,1986.9675,1989.29,1991.6125,1993.935,1996.2575,1998.58,2000.9025,2003.225,2005.5475,2007.87,2010.1925,2012.515,2014.8375],
                "labelExpr":"['80','82','84','87','89','91','94','96','98','01','03','05','08','10','12','15'][round((datum.value-1980)/2.3225)]","minExtent":76}},
   "y":{"field":"v","type":"quantitative","title":null,"scale":{"domain":[0,219.9],"nice":false},"axis":{"values":[0,50,100,150],"minExtent":50}}
  }},
 {"width":376,"height":197,
  "title":{"text":"Oil vs SPX","offset":-46,"dx":-29},
  "encoding":{
   "x":{"field":"t","type":"quantitative","title":null,"scale":{"domain":[1990,2017.15],"nice":false,"zero":false},
        "axis":{"values":[1990,1991.827,1993.654,1995.481,1997.308,1999.135,2000.962,2002.789,2004.616,2006.443,2008.27,2010.097,2011.924,2013.751,2015.578],
                "labelExpr":"['90','91','93','95','97','99','01','02','04','06','08','10','12','13','15'][round((datum.value-1990)/1.827)]","minExtent":118}},
   "y":{"field":"v","type":"quantitative","title":null,"scale":{"domain":[0,6320.9],"nice":false},"axis":{"values":[0,2000,4000,6000],"minExtent":60}}
  },
  "layer":[
   {"data":{"name":"spx"},"mark":{"type":"line"},
    "encoding":{
     "color":{"datum":"SPX","type":"nominal","scale":{"domain":["SPX","Oil"],"range":["#5b9bd5","#ed7d31"]},
      "legend":{"title":null,"orient":"none","legendX":80,"legendY":238,"direction":"horizontal","symbolType":"stroke","symbolSize":1681,"columnPadding":17,"labelOffset":3}},
     "strokeWidth":{"datum":"SPX","type":"nominal","scale":{"domain":["SPX","Oil"],"range":[1.6,4.5]},
      "legend":{"title":null,"orient":"none","legendX":80,"legendY":238,"direction":"horizontal","symbolType":"stroke","symbolSize":1681,"columnPadding":17,"labelOffset":3}}}},
   {"data":{"name":"oil"},"mark":{"type":"line"},
    "encoding":{"color":{"datum":"Oil","type":"nominal"},"strokeWidth":{"datum":"Oil","type":"nominal"}}}
  ]}
 ],"spacing":89,
 "resolve":{"scale":{"color":"independent","strokeWidth":"independent"},"legend":{"color":"independent","strokeWidth":"independent"}}},
{"hconcat":[
 {"width":392,"height":241,
  "title":{"text":"SPX/GDP Per Capita","offset":-64,"dx":-17},
  "data":{"name":"spxgdppc"},
  "mark":{"type":"line","color":"#5b9bd5","strokeWidth":4.5},
  "encoding":{
   "x":{"field":"t","type":"quantitative","title":null,"scale":{"domain":[1950,2017],"range":[10,392],"nice":false,"zero":false},
        "axis":{"values":[1950,1954.5,1959,1963.5,1968,1972.5,1977,1981.5,1986,1990.5,1995,1999.5,2004,2008.5,2013],
                "labelExpr":"['50','54','59','63','68','72','77','81','86','90','95','99','04','08','13'][round((datum.value-1950)/4.5)]","minExtent":49}},
   "y":{"field":"v","type":"quantitative","title":null,"scale":{"domain":[0,0.08197],"nice":false},"axis":{"values":[0,0.01,0.02,0.03,0.04,0.05],"offset":-10}}
  }},
 {"width":377,"height":239,
  "title":{"text":"GDP Per Capita vs SPX","offset":-58,"dx":-29},
  "encoding":{
   "x":{"field":"t","type":"quantitative","title":null,"scale":{"domain":[1990,2017.15],"nice":false,"zero":false},
        "axis":{"values":[1990,1991.827,1993.654,1995.481,1997.308,1999.135,2000.962,2002.789,2004.616,2006.443,2008.27,2010.097,2011.924,2013.751,2015.578],
                "labelExpr":"['90','91','93','95','97','99','01','02','04','06','08','10','12','13','15'][round((datum.value-1990)/1.827)]","minExtent":51}},
   "y":{"field":"v","type":"quantitative","title":null,"scale":{"domain":[0,3304],"nice":false},"axis":{"values":[0,1000,2000,3000],"minExtent":60}}
  },
  "layer":[
   {"data":{"name":"spx"},"mark":{"type":"line"},
    "encoding":{
     "color":{"datum":"SPX","type":"nominal","scale":{"domain":["SPX","GDPcapita"],"range":["#5b9bd5","#ed7d31"]},
      "legend":{"title":null,"orient":"none","legendX":56,"legendY":85,"direction":"horizontal","symbolType":"stroke","symbolSize":1849,"columnPadding":18,"labelOffset":5}},
     "strokeWidth":{"datum":"SPX","type":"nominal","scale":{"domain":["SPX","GDPcapita"],"range":[1.6,5]},
      "legend":{"title":null,"orient":"none","legendX":56,"legendY":85,"direction":"horizontal","symbolType":"stroke","symbolSize":1849,"columnPadding":18,"labelOffset":5}}}},
   {"data":{"name":"gdppc"},"mark":{"type":"line"},
    "encoding":{"color":{"datum":"GDPcapita","type":"nominal"},"strokeWidth":{"datum":"GDPcapita","type":"nominal"}}}
  ]}
 ],"spacing":85,
 "resolve":{"scale":{"color":"independent","strokeWidth":"independent"},"legend":{"color":"independent","strokeWidth":"independent"}}},
{"hconcat":[
 {"width":393,"height":223,
  "title":{"text":"SPX/GDP","offset":-47,"dx":-16},
  "data":{"name":"spxgdp"},
  "mark":{"type":"line","color":"#5b9bd5","strokeWidth":4.5},
  "encoding":{
   "x":{"field":"t","type":"quantitative","title":null,"scale":{"domain":[1950,2017],"range":[12,393],"nice":false,"zero":false},
        "axis":{"values":[1950,1954.5,1959,1963.5,1968,1972.5,1977,1981.5,1986,1990.5,1995,1999.5,2004,2008.5,2013],
                "labelExpr":"['50','54','59','63','68','72','77','81','86','90','95','99','04','08','13'][round((datum.value-1950)/4.5)]","minExtent":44}},
   "y":{"field":"v","type":"quantitative","title":null,"scale":{"domain":[0,0.2271],"nice":false},"axis":{"values":[0,0.05,0.1,0.15],"offset":-12}}
  }},
 {"width":376,"height":226,
  "title":{"text":"GDP vs SPX","offset":-27,"dx":-30,"fontSize":18},
  "encoding":{
   "x":{"field":"t","type":"quantitative","title":null,"scale":{"domain":[1990,2017.15],"nice":false,"zero":false},
        "axis":{"values":[1990,1991.827,1993.654,1995.481,1997.308,1999.135,2000.962,2002.789,2004.616,2006.443,2008.27,2010.097,2011.924,2013.751,2015.578],
                "labelExpr":"['90','91','93','95','97','99','01','02','04','06','08','10','12','13','15'][round((datum.value-1990)/1.827)]","minExtent":41}},
   "y":{"field":"v","type":"quantitative","title":null,"scale":{"domain":[0,3489],"nice":false},"axis":{"values":[0,1000,2000,3000],"minExtent":60}}
  },
  "layer":[
   {"data":{"name":"spx"},"mark":{"type":"line"},
    "encoding":{
     "color":{"datum":"SPX","type":"nominal","scale":{"domain":["SPX","GDP"],"range":["#5b9bd5","#ed7d31"]},
      "legend":{"title":null,"orient":"none","legendX":81,"legendY":50,"direction":"horizontal","symbolType":"stroke","symbolSize":1936,"columnPadding":16,"labelOffset":4}},
     "strokeWidth":{"datum":"SPX","type":"nominal","scale":{"domain":["SPX","GDP"],"range":[1.6,5]},
      "legend":{"title":null,"orient":"none","legendX":81,"legendY":50,"direction":"horizontal","symbolType":"stroke","symbolSize":1936,"columnPadding":16,"labelOffset":4}}}},
   {"data":{"name":"gdp"},"mark":{"type":"line"},
    "encoding":{"color":{"datum":"GDP","type":"nominal"},"strokeWidth":{"datum":"GDP","type":"nominal"}}}
  ]}
 ],"spacing":83,
 "resolve":{"scale":{"color":"independent","strokeWidth":"independent"},"legend":{"color":"independent","strokeWidth":"independent"}}},
{"width":921,"height":280,
 "title":{"text":"Stock Market of Selected Major Countries vs SPX","offset":-48,"dx":-24,"fontSize":28},
 "resolve":{"axis":{"y":"independent"}},
 "encoding":{
   "x":{"field":"t","type":"quantitative","title":null,"scale":{"domain":[1990,2017.15],"range":[46,921],"nice":false,"zero":false},
        "axis":{"values":[1990,1990.8315,1991.663,1992.4945,1993.326,1994.1575,1994.989,1995.8205,1996.652,1997.4835,1998.315,1999.1465,1999.978,2000.8095,2001.641,2002.4725,2003.304,2004.1355,2004.967,2005.7985,2006.63,2007.4615,2008.293,2009.1245,2009.956,2010.7875,2011.619,2012.4505,2013.282,2014.1135,2014.945,2015.7765,2016.608],
                "labelExpr":"['90','90','91','92','93','94','95','95','96','97','98','99','00','00','01','02','03','04','05','05','06','07','08','09','10','10','11','12','13','14','15','15','16'][round((datum.value-1990)/0.8315)]"}}
 },
 "layer":[
   {"data":{"name":"spx"},"mark":{"type":"line"},
    "encoding":{
     "y":{"field":"v","type":"quantitative","title":null,"scale":{"domain":[0,6000],"nice":false},
          "axis":{"values":[0,1000,2000,3000,4000,5000,6000],"offset":-46,"domain":true,"domainColor":"#70ad47",
                  "gridColor":{"condition":{"test":"datum.value === 6000","value":"#70ad47"},"value":"#d9d9d9"}}},
     "color":{"datum":"SPX","type":"nominal","scale":{"domain":["SPX","UK","JAP","GER","CHI","CAN"],"range":["#161616","#ed7d31","#a5a5a5","#ffc000","#4472c4","#70ad47"]},
      "legend":{"title":null,"orient":"none","legendX":155,"legendY":52,"direction":"horizontal","symbolType":"stroke","symbolSize":1600,"columnPadding":8,"labelOffset":3}},
     "strokeWidth":{"datum":"SPX","type":"nominal","scale":{"type":"ordinal","domain":["SPX","UK","JAP","GER","CHI","CAN"],"range":[6,4.5,1.6,1.6,1.6,1.6]},
      "legend":{"title":null,"orient":"none","legendX":155,"legendY":52,"direction":"horizontal","symbolType":"stroke","symbolSize":1600,"columnPadding":8,"labelOffset":3}}}},
   {"data":{"name":"world"},"mark":{"type":"line"},
    "encoding":{
     "y":{"field":"v","type":"quantitative","title":null,"scale":{"domain":[0,6000],"nice":false},
          "axis":{"orient":"right","labels":false,"grid":false,"ticks":false,"domain":true,"domainColor":"#70ad47"}},
     "color":{"field":"s","type":"nominal",
      "legend":{"title":null,"orient":"none","legendX":155,"legendY":52,"direction":"horizontal","symbolType":"stroke","symbolSize":1600,"columnPadding":8,"labelOffset":3}},
     "strokeWidth":{"field":"s","type":"nominal","scale":{"type":"ordinal","domain":["SPX","UK","JAP","GER","CHI","CAN"],"range":[6,4.5,1.6,1.6,1.6,1.6]},
      "legend":{"title":null,"orient":"none","legendX":155,"legendY":52,"direction":"horizontal","symbolType":"stroke","symbolSize":1600,"columnPadding":8,"labelOffset":3}}}}
 ]}
]
}
